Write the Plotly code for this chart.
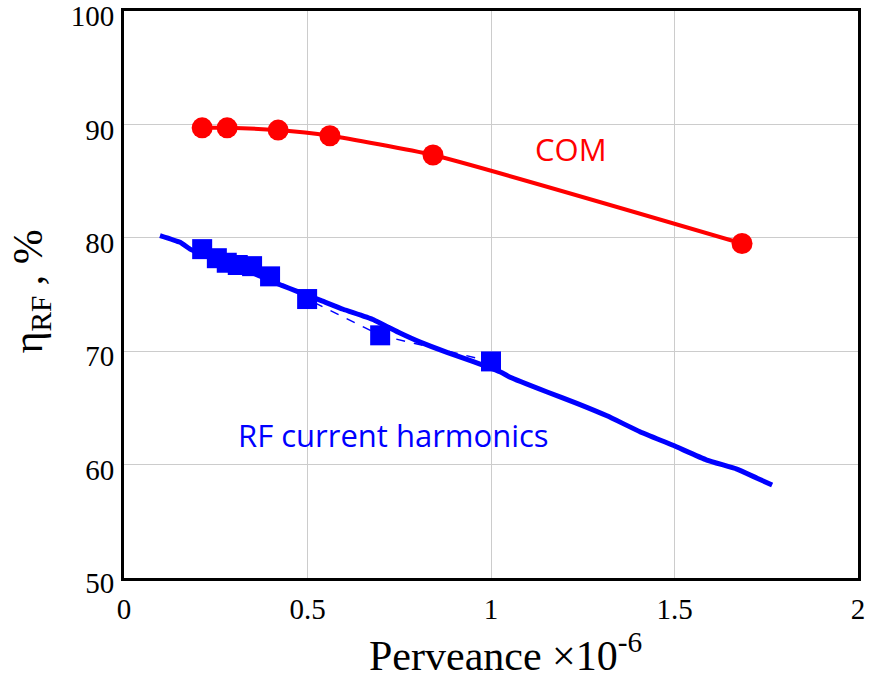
import plotly.graph_objects as go

# COM (red)
com_x = [0.213, 0.281, 0.42, 0.561, 0.842, 1.684]
com_y = [89.7, 89.7, 89.5, 89.0, 87.3, 79.5]

# RF current harmonics markers (blue)
rf_mx = [0.213, 0.253, 0.28, 0.31, 0.349, 0.398, 0.499, 0.698, 1.0]
rf_my = [79.0, 78.2, 77.8, 77.6, 77.5, 76.6, 74.6, 71.4, 69.1]

# RF current harmonics curve (blue)
rf_lx = [0.098, 0.153, 0.18, 0.25, 0.32, 0.38, 0.43, 0.47, 0.534, 0.597, 0.678,
         0.752, 0.807, 0.88, 0.95, 1.03, 1.052, 1.153, 1.234, 1.316, 1.406, 1.496,
         1.588, 1.67, 1.725, 1.766]
rf_ly = [80.2, 79.6, 79.0, 78.1, 77.3, 76.5, 75.8, 75.3, 74.5, 73.7, 72.8,
         71.6, 70.8, 69.9, 69.1, 68.1, 67.7, 66.4, 65.4, 64.3, 62.9, 61.7,
         60.4, 59.6, 58.8, 58.2]

x_ticks = [0, 0.5, 1, 1.5, 2]
x_ticklabels = ["0", "0.5", "1", "1.5", "2"]
y_ticks = [50, 60, 70, 80, 90, 100]

serif = "Liberation Serif, Times New Roman, serif"

fig = go.Figure()
fig.add_trace(go.Scatter(x=rf_lx, y=rf_ly, mode="lines",
                         line=dict(color="#0000ff", width=5, shape="spline", smoothing=0.4),
                         hoverinfo="skip"))
fig.add_trace(go.Scatter(x=rf_mx, y=rf_my, mode="lines+markers",
                         line=dict(color="#0000ff", width=1.5, dash="dash"),
                         marker=dict(symbol="square", size=20, color="#0000ff")))
fig.add_trace(go.Scatter(x=com_x, y=com_y, mode="lines+markers",
                         line=dict(color="#ff0000", width=4, shape="spline", smoothing=0.5),
                         marker=dict(symbol="circle", size=21, color="#ff0000")))

fig.add_annotation(x=1.218, y=87.8, text="COM", showarrow=False,
                   font=dict(family="Open Sans", size=31, color="#ff0000"))
fig.add_annotation(x=0.733, y=62.6, text="RF current harmonics", showarrow=False,
                   font=dict(family="Open Sans", size=31, color="#0000ff"))

fig.add_annotation(xref="paper", yref="paper", x=-0.165, y=0.505,
                   text="η<sub>RF</sub> , %", textangle=-90, showarrow=False,
                   font=dict(family=serif, size=42, color="black"))
fig.add_annotation(xref="paper", yref="paper", x=0.52, y=-0.132,
                   yanchor="middle",
                   text="Perveance ×10<sup>-6</sup>", showarrow=False,
                   font=dict(family=serif, size=42, color="black"))

fig.update_xaxes(range=[0, 2], tickvals=x_ticks, ticktext=x_ticklabels,
                 showgrid=True, gridcolor="#cccccc", gridwidth=1,
                 showline=True, linecolor="black", linewidth=3, mirror=True,
                 ticks="", zeroline=False, ticklabelstandoff=3, automargin=False,
                 ticklabeloverflow="allow",
                 tickfont=dict(family=serif, size=29, color="black"))
fig.update_yaxes(range=[50, 100], tickvals=y_ticks,
                 showgrid=True, gridcolor="#cccccc", gridwidth=1,
                 showline=True, linecolor="black", linewidth=3, mirror=True,
                 ticks="", zeroline=False, ticklabelstandoff=1, automargin=False,
                 ticklabelshift=5, ticklabeloverflow="allow",
                 tickfont=dict(family=serif, size=29, color="black"))

fig.update_layout(width=874, height=681, showlegend=False,
                  plot_bgcolor="white", paper_bgcolor="white",
                  margin=dict(l=124, r=16, t=11, b=103))

fig.write_html("out.html")
